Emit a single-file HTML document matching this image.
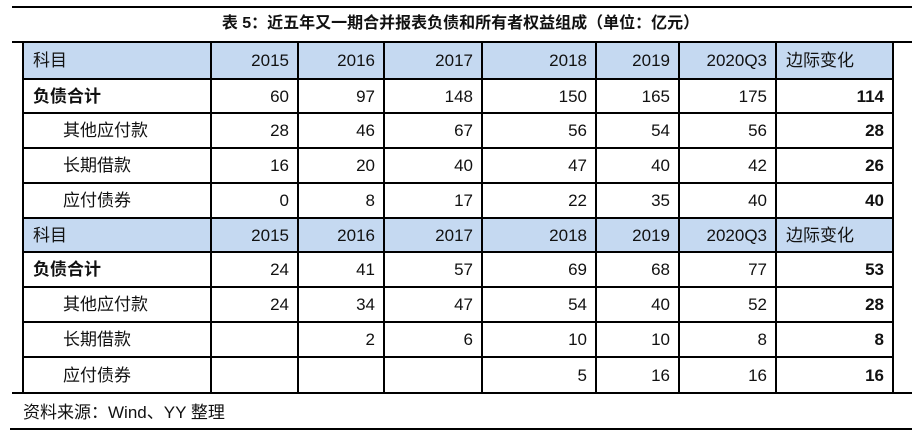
<!DOCTYPE html>
<html><head><meta charset="utf-8"><style>
body{margin:0;width:921px;height:438px;background:#fff;position:relative;font-family:"Liberation Sans","Noto Sans CJK SC",sans-serif;color:#111;overflow:hidden}
.h{position:absolute;background:#000}
.c{position:absolute;font-size:17px;line-height:1;display:flex;align-items:center;box-sizing:border-box}
.r{justify-content:flex-end;padding-right:9px}
.b{font-weight:bold}
.hd{background:#c5d9f1;position:absolute}
</style></head><body>
<div class="h" style="left:12px;top:6px;width:900px;height:2px"></div>
<div class="c b" style="left:0;top:11px;width:921px;height:26px;justify-content:center;font-size:16px">表 5：近五年又一期合并报表负债和所有者权益组成（单位：亿元）</div>
<div class="h" style="left:12px;top:41px;width:900px;height:2px"></div>
<div class="h" style="left:12px;top:392px;width:900px;height:2px"></div>
<div class="h" style="left:10px;top:428px;width:902px;height:2px"></div>
<div class="hd" style="left:23px;top:43px;width:870px;height:36px"></div>
<div class="hd" style="left:23px;top:218px;width:870px;height:34px"></div>
<div id="t"></div>
<div class="c" style="left:23px;top:399px;height:26px">资料来源：Wind、YY 整理</div>
<script>
var cols=[23,211,298,384,482,596,679,776,893];
var rows=[42,79,113,148,183,218,252,287,322,357,393];
var data=[
["科目","2015","2016","2017","2018","2019","2020Q3","边际变化"],
["负债合计","60","97","148","150","165","175","114"],
["其他应付款","28","46","67","56","54","56","28"],
["长期借款","16","20","40","47","40","42","26"],
["应付债券","0","8","17","22","35","40","40"],
["科目","2015","2016","2017","2018","2019","2020Q3","边际变化"],
["负债合计","24","41","57","69","68","77","53"],
["其他应付款","24","34","47","54","40","52","28"],
["长期借款","","2","6","10","10","8","8"],
["应付债券","","","","5","16","16","16"]];
var h="";
for(var i=0;i<cols.length;i++)h+='<div class="h" style="left:'+(cols[i]-1)+'px;top:42px;width:2px;height:351px"></div>';
for(var j=1;j<rows.length-1;j++)h+='<div class="h" style="left:23px;top:'+(rows[j]-1)+'px;width:870px;height:2px"></div>';
for(var r=0;r<10;r++){var hdr=(r==0||r==5);
for(var c=0;c<8;c++){var t=data[r][c];var cls="c";var st="left:"+cols[c]+"px;top:"+rows[r]+"px;width:"+(cols[c+1]-cols[c])+"px;height:"+(rows[r+1]-rows[r])+"px;";
if(c==0){st+="padding-left:"+((hdr||r==1||r==6)?10:40)+"px;";if(r==1||r==6)cls+=" b";}
else if(hdr&&c==7){st+="padding-left:10px;";}
else{cls+=" r";if(c==7)cls+=" b";}
h+='<div class="'+cls+'" style="'+st+'">'+t+'</div>';}}
document.getElementById("t").innerHTML=h;
</script>
</body></html>
